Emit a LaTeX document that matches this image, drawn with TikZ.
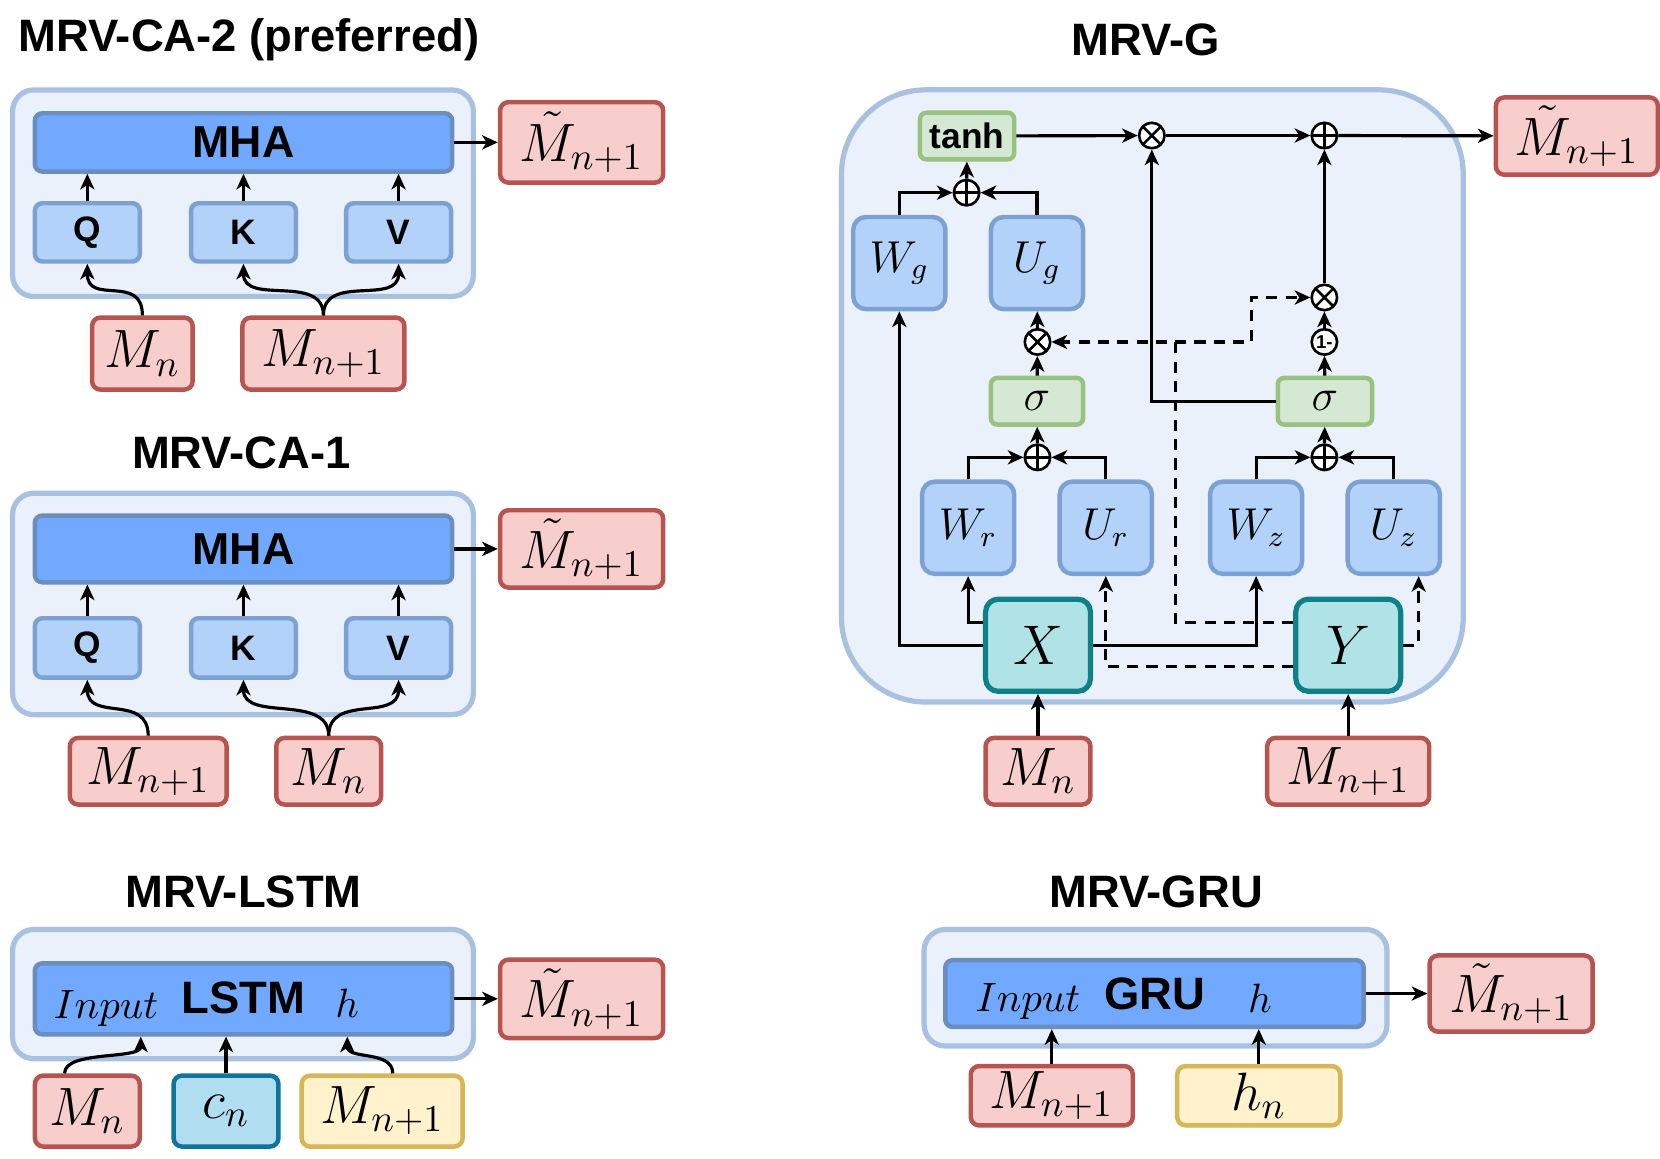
\RequirePackage{fix-cm}
\documentclass[tikz,border=0pt]{standalone}
\usepackage{fontspec}
\setsansfont{Liberation Sans}
\usetikzlibrary{arrows.meta, positioning}

\definecolor{panelfill}{HTML}{EAF1FB}
\definecolor{paneldraw}{HTML}{A9C1E1}
\definecolor{barfill}{HTML}{70A9FD}
\definecolor{bardraw}{HTML}{6C8EBF}
\definecolor{projfill}{HTML}{B2D2F9}
\definecolor{projdraw}{HTML}{7EA1D3}
\definecolor{memfill}{HTML}{F8CECC}
\definecolor{memdraw}{HTML}{B85450}
\definecolor{gatefill}{HTML}{D5E8D4}
\definecolor{gatedraw}{HTML}{97C27F}
\definecolor{statefill}{HTML}{B0E3E6}
\definecolor{statedraw}{HTML}{0E8088}
\definecolor{cellfill}{HTML}{B1DDF0}
\definecolor{celldraw}{HTML}{10739E}
\definecolor{hidfill}{HTML}{FFF2CC}
\definecolor{hiddraw}{HTML}{D6B656}

\begin{document}
\begin{tikzpicture}[
    x=0.01cm, y=-0.01cm,
    title/.style={font=\fontsize{12.2}{14}\selectfont\sffamily\bfseries},
    panel/.style={rectangle, draw=paneldraw, fill=panelfill, line width=1.4pt, rounded corners=0.2cm, inner sep=0},
    bar/.style={rectangle, draw=bardraw, fill=barfill, line width=1.2pt, rounded corners=0.07cm, inner sep=0, minimum width=3.94cm, font=\fontsize{12}{14}\selectfont\sffamily\bfseries},
    proj/.style={rectangle, draw=projdraw, fill=projfill, line width=1.2pt, rounded corners=0.07cm, inner sep=0, minimum width=0.99cm, minimum height=0.55cm, font=\fontsize{9.5}{11}\selectfont\sffamily\bfseries},
    weight/.style={rectangle, draw=projdraw, fill=projfill, line width=1.2pt, rounded corners=0.12cm, inner sep=0, minimum size=0.87cm, font=\fontsize{12}{14}\selectfont},
    mem/.style={rectangle, draw=memdraw, fill=memfill, line width=1.2pt, rounded corners=0.08cm, inner sep=0, font=\fontsize{14.5}{16}\selectfont},
    cell/.style={mem, draw=celldraw, fill=cellfill},
    hid/.style={mem, draw=hiddraw, fill=hidfill},
    gate/.style={rectangle, draw=gatedraw, fill=gatefill, line width=1.2pt, rounded corners=0.06cm, inner sep=0, minimum height=0.44cm, font=\fontsize{12}{14}\selectfont},
    state/.style={rectangle, draw=statedraw, fill=statefill, line width=1.4pt, rounded corners=0.12cm, inner sep=0, minimum width=0.99cm, minimum height=0.87cm, font=\fontsize{15}{17}\selectfont},
    oplus/.style={circle, draw, fill=white, line width=0.7pt, minimum size=0.24cm, inner sep=0, path picture={\draw[line width=0.7pt] (path picture bounding box.north) -- (path picture bounding box.south) (path picture bounding box.west) -- (path picture bounding box.east);}},
    otimes/.style={circle, draw, fill=white, line width=0.7pt, minimum size=0.24cm, inner sep=0, path picture={\draw[line width=0.7pt] (path picture bounding box.north west) -- (path picture bounding box.south east) (path picture bounding box.north east) -- (path picture bounding box.south west);}},
    ones/.style={circle, draw, fill=white, line width=0.7pt, minimum size=0.24cm, inner sep=0, font=\fontsize{5}{5}\selectfont\sffamily\bfseries},
    arrow/.style={line width=0.85pt, -{Stealth[length=4.2pt, width=3.8pt, inset=1.2pt]}},
    dasharrow/.style={arrow, dash pattern=on 3pt off 2.2pt}
]
\useasboundingbox (0,0) rectangle (1568,1094);

% MRV-CA-2
\node (title2) [title] at (235,38) {MRV-CA-2 (preferred)};
\node (panel2) [panel, minimum width=4.35cm, minimum height=1.95cm] at (229.5,182.5) {};
\node (mha2) [bar, minimum height=0.55cm] at (230,134.5) {MHA};
\node (q2) [proj] at (82.5,219.5) {Q};
\node (k2) [proj] at (230,219.5) {K};
\node (v2) [proj] at (376.5,219.5) {V};
\node (out2) [mem, minimum width=1.54cm, minimum height=0.76cm, right=0.41cm of mha2] {$\tilde{M}_{n+1}$};
\node (mn2) [mem, minimum width=0.95cm, minimum height=0.68cm] at (134.5,334) {$M_n$};
\node (mnp2) [mem, minimum width=1.53cm, minimum height=0.68cm] at (305.5,334) {$M_{n+1}$};

\draw [arrow] (q2.north) -- (q2.north |- mha2.south);
\draw [arrow] (k2.north) -- (k2.north |- mha2.south);
\draw [arrow] (v2.north) -- (v2.north |- mha2.south);
\draw [arrow] (mha2) -- (out2);
\draw [arrow] (mn2.north) .. controls +(0,-40) and +(0,40) .. (q2.south);
\draw [arrow] (mnp2.north) .. controls +(0,-40) and +(0,40) .. (k2.south);
\draw [arrow] (mnp2.north) .. controls +(0,-40) and +(0,40) .. (v2.south);

% MRV-CA-1
\node (title1) [title] at (228,428) {MRV-CA-1};
\node (panel1) [panel, minimum width=4.35cm, minimum height=2.09cm] at (229.5,570.5) {};
\node (mha1) [bar, minimum height=0.63cm] at (230,518.5) {MHA};
\node (q1) [proj, minimum height=0.56cm] at (82.5,612) {Q};
\node (k1) [proj, minimum height=0.56cm] at (230,612) {K};
\node (v1) [proj, minimum height=0.56cm] at (376.5,612) {V};
\node (out1) [mem, minimum width=1.54cm, minimum height=0.73cm, right=0.41cm of mha1] {$\tilde{M}_{n+1}$};
\node (mnp1) [mem, minimum width=1.48cm, minimum height=0.63cm] at (140,728.5) {$M_{n+1}$};
\node (mn1) [mem, minimum width=0.99cm, minimum height=0.63cm] at (310.5,728.5) {$M_n$};

\draw [arrow] (q1.north) -- (q1.north |- mha1.south);
\draw [arrow] (k1.north) -- (k1.north |- mha1.south);
\draw [arrow] (v1.north) -- (v1.north |- mha1.south);
\draw [arrow] (mha1) -- (out1);
\draw [arrow] (mnp1.north) .. controls +(0,-40) and +(0,40) .. (q1.south);
\draw [arrow] (mn1.north) .. controls +(0,-40) and +(0,40) .. (k1.south);
\draw [arrow] (mn1.north) .. controls +(0,-40) and +(0,40) .. (v1.south);

% MRV-LSTM
\node (title3) [title] at (230,842) {MRV-LSTM};
\node (panel3) [panel, minimum width=4.35cm, minimum height=1.22cm] at (229.5,939) {};
\node (lstm) [bar, minimum height=0.67cm] at (230,943.5) {};
\node (lstmin) [anchor=base, font=\fontsize{11}{13}\selectfont] at (100,962) {$Input$};
\node (lstmname) [anchor=base, title] at (230,957) {LSTM};
\node (lstmh) [anchor=base, font=\fontsize{11}{13}\selectfont] at (328,961) {$h$};
\node (out3) [mem, minimum width=1.54cm, minimum height=0.74cm, right=0.41cm of lstm] {$\tilde{M}_{n+1}$};
\node (mn3) [mem, minimum width=0.99cm, minimum height=0.67cm] at (82.5,1049.5) {$M_n$};
\node (cn3) [cell, minimum width=0.99cm, minimum height=0.67cm] at (213.5,1049.5) {$c_n$};
\node (mnp3) [hid, minimum width=1.52cm, minimum height=0.67cm] at (361,1049.5) {$M_{n+1}$};

\draw [arrow] (lstm) -- (out3);
\draw [arrow] ([xshift=-0.215cm]mn3.north) .. controls +(0,-22) and +(0,22) .. ([xshift=-0.97cm]lstm.south);
\draw [arrow] (cn3.north) -- (cn3.north |- lstm.south);
\draw [arrow] ([xshift=0.1cm]mnp3.north) .. controls +(0,-22) and +(0,22) .. ([xshift=0.98cm]lstm.south);

% MRV-GRU
\node (title4) [title] at (1092,842) {MRV-GRU};
\node (panel4) [panel, minimum width=4.37cm, minimum height=1.10cm] at (1091.5,933) {};
\node (gru) [bar, minimum width=3.95cm, minimum height=0.63cm] at (1090.5,938.5) {};
\node (gruin) [anchor=base, font=\fontsize{11}{13}\selectfont] at (971,955) {$Input$};
\node (gruname) [anchor=base, title] at (1091,954) {GRU};
\node (gruh) [anchor=base, font=\fontsize{11}{13}\selectfont] at (1190,956) {$h$};
\node (out4) [mem, minimum width=1.54cm, minimum height=0.72cm, right=0.58cm of gru] {$\tilde{M}_{n+1}$};
\node (mnp4) [mem, minimum width=1.53cm, minimum height=0.56cm] at (993.5,1035) {$M_{n+1}$};
\node (hn4) [hid, minimum width=1.54cm, minimum height=0.56cm] at (1189,1035) {$h_n$};

\draw [arrow] (gru) -- (out4);
\draw [arrow] (mnp4.north) -- (mnp4.north |- gru.south);
\draw [arrow] (hn4.north) -- (hn4.north |- gru.south);

% MRV-G
\node (titleG) [title] at (1082,38) {MRV-G};
\node (panelG) [panel, rounded corners=0.8cm, minimum width=5.87cm, minimum height=5.78cm] at (1088.5,374) {};
\node (tanh) [gate, minimum width=0.89cm, font=\fontsize{9.5}{11}\selectfont\sffamily\bfseries] at (913.5,128.5) {tanh};
\node (mulT) [otimes] at (1088,128) {};
\node (addT) [oplus] at (1251,128) {};
\node (outG) [mem, minimum width=1.53cm, minimum height=0.73cm] at (1489.5,128.5) {$\tilde{M}_{n+1}$};
\node (addG) [oplus] at (913,182) {};
\node (Wg) [weight] at (849.5,248.5) {$W_g$};
\node (Ug) [weight] at (979.5,248.5) {$U_g$};
\node (mulR) [otimes] at (980,323) {};
\node (sigR) [gate, minimum width=0.87cm] at (979.5,379) {$\sigma$};
\node (addR) [oplus] at (980,432) {};
\node (Wr) [weight] at (914.5,498.5) {$W_r$};
\node (Ur) [weight] at (1044.5,498.5) {$U_r$};
\node (Wz) [weight] at (1186.5,498.5) {$W_z$};
\node (Uz) [weight] at (1316.5,498.5) {$U_z$};
\node (addZ) [oplus] at (1251,432) {};
\node (sigZ) [gate, minimum width=0.89cm] at (1251.5,379) {$\sigma$};
\node (oneZ) [ones] at (1251,323) {1-};
\node (mulZ) [otimes] at (1251,281) {};
\node (X) [state] at (980.5,609.5) {$X$};
\node (Y) [state] at (1273.5,609.5) {$Y$};
\node (mnG) [mem, minimum width=0.99cm, minimum height=0.63cm] at (980.5,728.5) {$M_n$};
\node (mnpG) [mem, minimum width=1.53cm, minimum height=0.63cm] at (1273.5,728.5) {$M_{n+1}$};
\coordinate (ysplit) at (1110,323);
\coordinate (ystep) at (1182,323);

\draw [arrow] (tanh) -- (mulT);
\draw [arrow] (mulT) -- (addT);
\draw [arrow] (addT) -- (outG);
\draw [arrow] (addG) -- (tanh);
\draw [arrow] (Wg.north) |- (addG);
\draw [arrow] (Ug.north) |- (addG);
\draw [arrow] (mulR) -- (Ug);
\draw [arrow] (sigR) -- (mulR);
\draw [arrow] (addR) -- (sigR);
\draw [arrow] (Wr.north) |- (addR);
\draw [arrow] (Ur.north) |- (addR);
\draw [arrow] (Wz.north) |- (addZ);
\draw [arrow] (Uz.north) |- (addZ);
\draw [arrow] (addZ) -- (sigZ);
\draw [arrow] (sigZ) -- (oneZ);
\draw [arrow] (oneZ) -- (mulZ);
\draw [arrow] (mulZ) -- (addT);
\draw [arrow] (sigZ.west) -| (mulT);
\draw [arrow] ([yshift=0.215cm]X.west) -| (Wr);
\draw [arrow] (X.west) -| (Wg);
\draw [arrow] (X.east) -| (Wz);
\draw [dasharrow] ([yshift=-0.2cm]Y.west) -| (Ur);
\draw [dasharrow] (Y.east) -| ([xshift=0.235cm]Uz.south);
\draw [dasharrow] ([yshift=0.215cm]Y.west) -| (ysplit) -- (mulR);
\draw [dasharrow] (ysplit) -- (ystep) |- (mulZ);
\draw [arrow] (mnG) -- (X);
\draw [arrow] (mnpG) -- (Y);

\end{tikzpicture}
\end{document}
